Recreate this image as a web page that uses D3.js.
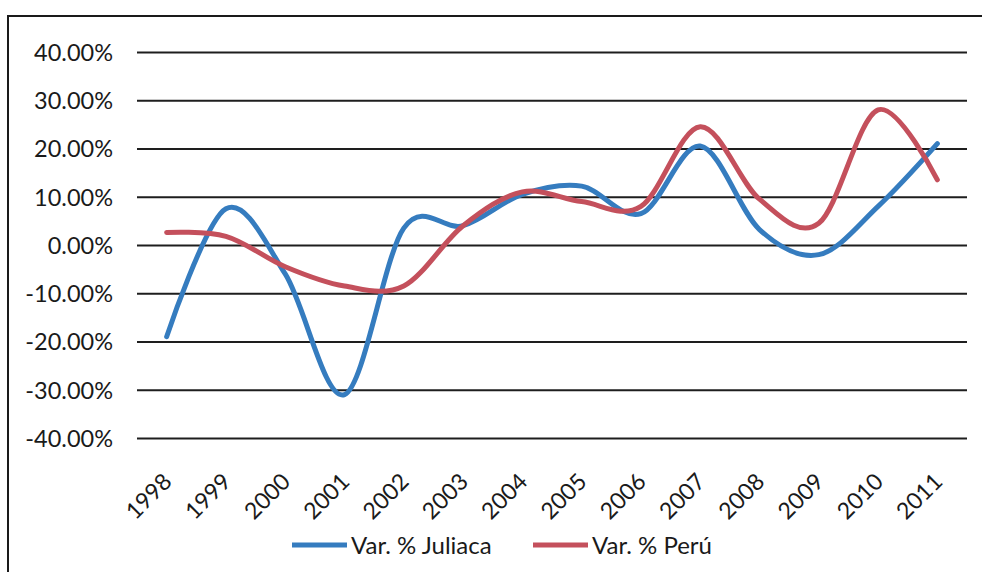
<!DOCTYPE html>
<html>
<head>
<meta charset="utf-8">
<script src="https://cdn.jsdelivr.net/npm/d3@7/dist/d3.min.js"></script>
<style>
  html, body { margin: 0; padding: 0; background: #fff; }
  svg { display: block; }
  text { font-family: Lato, "Open Sans", sans-serif; fill: #1a1a1a; }
</style>
</head>
<body>
<svg id="chart" width="982" height="572"></svg>
<script>
// Annual growth rates (%) for Juliaca and Peru, 1998–2011
const years = ["1998","1999","2000","2001","2002","2003","2004","2005","2006","2007","2008","2009","2010","2011"];
const juliaca = [-19, 7.5, -6, -31, 3.5, 4, 10.5, 12.2, 6.5, 20.5, 3.2, -2, 8, 21];
const peru    = [2.6, 1.8, -4.5, -8.5, -8.5, 4, 11, 9, 8, 24.5, 9.5, 4.5, 28, 13.5];
const yTicks  = [40, 30, 20, 10, 0, -10, -20, -30, -40];
const seriesNames = ["Var. % Juliaca", "Var. % Perú"];

const svg = d3.select("#chart");
const plot = { left: 137, right: 967, top: 52, bottom: 438 };

const x = d3.scalePoint().domain(years).range([plot.left, plot.right]).padding(0.5);
const y = d3.scaleLinear().domain([-40, 40]).range([plot.bottom, plot.top]);

// outer frame
svg.append("rect")
  .attr("x", 8).attr("y", 16)
  .attr("width", 1000).attr("height", 600)
  .attr("fill", "none").attr("stroke", "#1a1a1a").attr("stroke-width", 2);

// horizontal gridlines and percentage labels
const yAxis = d3.axisLeft(y)
  .tickValues(yTicks)
  .tickSize(-(plot.right - plot.left))
  .tickPadding(24)
  .tickFormat(d => d.toFixed(2) + "%");

const gy = svg.append("g")
  .attr("transform", `translate(${plot.left},0)`)
  .call(yAxis);
gy.select(".domain").remove();
gy.selectAll(".tick line").attr("stroke", "#1e1e1e").attr("stroke-width", 1.8);
gy.selectAll(".tick text")
  .attr("font-size", 23.5)
  .attr("dy", "0.36em")
  .style("font-family", "Lato, 'Open Sans', sans-serif")
  .attr("fill", "#1a1a1a");

// rotated year labels
const xAxis = d3.axisBottom(x).tickSize(0).tickPadding(0);
const gx = svg.append("g")
  .attr("transform", `translate(0,${plot.bottom})`)
  .call(xAxis);
gx.select(".domain").remove();
gx.selectAll(".tick text")
  .attr("font-size", 23)
  .style("font-family", "Lato, 'Open Sans', sans-serif")
  .attr("fill", "#1a1a1a")
  .attr("text-anchor", "end")
  .attr("dy", 0)
  .attr("y", 0)
  .attr("transform", "translate(6,45) rotate(-45)");

// smoothed series lines
const line = d3.line()
  .x((d, i) => x(years[i]))
  .y(d => y(d))
  .curve(d3.curveCardinal.tension(0));

const colors = ["#357cbf", "#c4505c"];
[juliaca, peru].forEach((vals, k) => {
  svg.append("path")
    .datum(vals)
    .attr("d", line)
    .attr("fill", "none")
    .attr("stroke", colors[k])
    .attr("stroke-width", 5)
    .attr("stroke-linecap", "round")
    .attr("stroke-linejoin", "round");
});

// legend
const legendX = [292, 533];
seriesNames.forEach((name, k) => {
  const g = svg.append("g").attr("transform", `translate(${legendX[k]},545)`);
  g.append("line")
    .attr("x1", 0).attr("x2", 55).attr("y1", 0).attr("y2", 0)
    .attr("stroke", colors[k]).attr("stroke-width", 5);
  g.append("text")
    .attr("x", 59).attr("y", 0).attr("dy", "0.36em")
    .attr("font-size", 24)
    .text(name);
});
</script>
</body>
</html>
